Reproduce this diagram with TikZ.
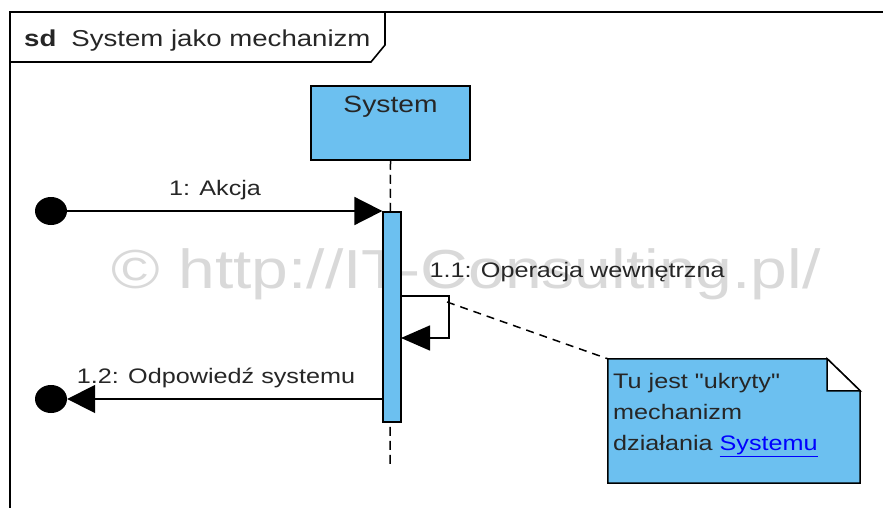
\documentclass[tikz,border=0pt]{standalone}
\usepackage{fontspec}
\setmainfont[FakeStretch=1.2, Ligatures=TeXOff]{Liberation Sans}
\usetikzlibrary{arrows.meta}
\usetikzlibrary{positioning}
\usetikzlibrary{shapes.geometric}
\definecolor{umlblue}{RGB}{108,192,240}
\tikzset{msg/.style = {-{Triangle[length=28pt, width=28pt]}, line width=1.8pt}}
\tikzset{endpt/.style = {fill, ellipse, inner sep = 0, minimum width = 32pt, minimum height = 28pt}}
\tikzset{lifebox/.style = {draw, fill = umlblue, line width = 1.5pt, minimum width = 159pt, minimum height = 74pt}}
\tikzset{actbar/.style = {draw, fill = umlblue, line width = 1.3pt, inner sep = 0, minimum width = 18pt, minimum height = 210pt}}
\tikzset{lifeline/.style = {line width = 1.5pt, dash pattern = on 9pt off 5pt}}
\tikzset{notelink/.style = {line width = 1.5pt, dash pattern = on 8pt off 6pt}}
\tikzset{txt/.style = {anchor = base, text = black!85, font = \fontsize{21}{31}\selectfont}}

\begin{document}
\begin{tikzpicture}[x=1pt, y=-1pt]
  \useasboundingbox (0,0) rectangle (883,508);

  % watermark
  \node [anchor = base, text = black!15, font = \fontsize{55}{60}\selectfont] (wm) at (466,288) {© http://IT-Consulting.pl/};

  % frame and heading
  \draw [line width = 2pt] (10,508) -- (10,12) -- (883,12);
  \draw [line width = 1.6pt] (385,12) -- (385,45) -- (371,62) -- (10,62);
  \node [anchor = base west, inner sep = 0, text = black!85, font = \fontsize{23}{28}\selectfont] (title) at (24,47) {\textbf{sd}\hspace{15pt}System jako mechanizm};

  % lifeline of System
  \node [lifebox] (sys) at (390.5,123) {};
  \node [txt, font = \fontsize{23.5}{28}\selectfont] (sysname) at (390.5,113) {System};
  \coordinate (lifeEnd) at (390,466);
  \draw [lifeline] (sys.south) -- (lifeEnd);
  \node [actbar] (bar) at (392,317) {};

  % incoming call
  \node [endpt] (start) at (51,211) {};
  \draw [msg] (start) -- (start -| bar.west);
  \node [txt] (akcja) at (215,195) {1: Akcja};

  % self call
  \coordinate (selfA) at (401,296);
  \coordinate (selfB) at (401,338);
  \draw [msg, line width = 1.5pt, -{Triangle[length=29pt, width=25pt]}] (selfA) -- ++(48,0) |- (selfB);
  \node [txt, anchor = base west] (oper) at (426,277) {1.1: Operacja wewnętrzna};

  % reply
  \node [endpt] (stop) at (51,399) {};
  \draw [msg] (stop -| bar.west) -- (stop);
  \node [txt] (odp) at (216,383) {1.2: Odpowiedź systemu};

  % note
  \node [minimum width = 252pt, minimum height = 124pt, inner sep = 0] (note) at (734,421) {};
  \filldraw [fill = umlblue, line width = 1.5pt] (note.north west) -- ([xshift = -33pt]note.north east)
    -- ([yshift = -32pt]note.north east) -- (note.south east) -- (note.south west) -- cycle;
  \filldraw [fill = white, line width = 1.5pt] ([xshift = -33pt]note.north east)
    -- ([xshift = -33pt, yshift = -32pt]note.north east) -- ([yshift = -32pt]note.north east) -- cycle;
  \node [txt, anchor = base west, align = left, inner sep = 0] (notetext) at (613,450)
    {Tu jest "ukryty"\\mechanizm\\działania {\color{blue}\underline{Systemu}}};
  \coordinate (hook) at (447,302);
  \draw [notelink] (hook) -- (note.north west);
\end{tikzpicture}
\end{document}
